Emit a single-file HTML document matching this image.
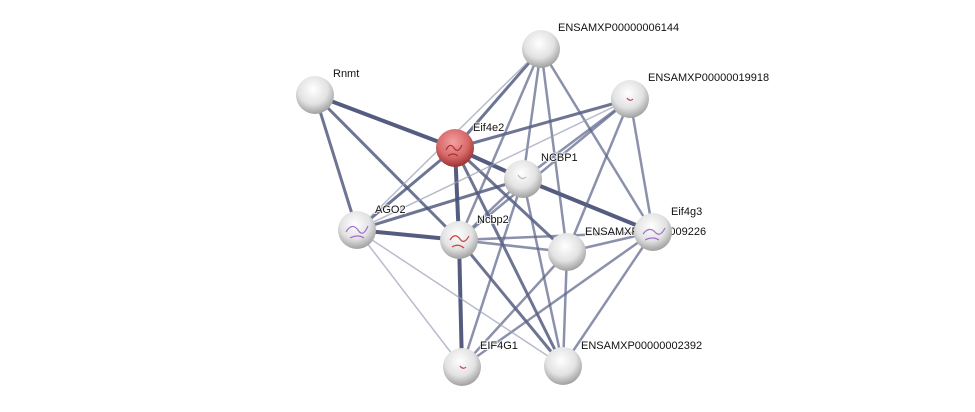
<!DOCTYPE html>
<html><head><meta charset="utf-8"><style>
html,body{margin:0;padding:0;background:#fff;width:975px;height:412px;overflow:hidden}
text{font-family:"Liberation Sans",sans-serif;font-size:11px;fill:#111;paint-order:stroke;stroke:#fff;stroke-width:2px;stroke-opacity:0.8}
</style></head><body>
<svg width="975" height="412" xmlns="http://www.w3.org/2000/svg">
<defs>
<radialGradient id="g" cx="45%" cy="35%" r="65%">
<stop offset="0" stop-color="#ffffff"/><stop offset="0.6" stop-color="#e2e2e2"/><stop offset="1" stop-color="#a0a0a0"/>
</radialGradient>
<radialGradient id="r" cx="45%" cy="35%" r="65%">
<stop offset="0" stop-color="#f4a0a0"/><stop offset="0.6" stop-color="#d86a6a"/><stop offset="1" stop-color="#9a3232"/>
</radialGradient>
</defs>
<g stroke-linecap="round">
<g stroke="#38406a" stroke-opacity="0.85" stroke-width="4">
<line x1="315" y1="95" x2="455" y2="148"/>
<line x1="455" y1="148" x2="523" y2="179"/>
<line x1="455" y1="148" x2="459" y2="240"/>
<line x1="357" y1="230" x2="459" y2="240"/>
<line x1="459" y1="240" x2="462" y2="367"/>
<line x1="523" y1="179" x2="653" y2="232"/>
</g>
<g stroke="#4a5278" stroke-opacity="0.8" stroke-width="3">
<line x1="315" y1="95" x2="357" y2="230"/>
<line x1="315" y1="95" x2="459" y2="240"/>
<line x1="455" y1="148" x2="357" y2="230"/>
<line x1="455" y1="148" x2="630" y2="99"/>
<line x1="455" y1="148" x2="563" y2="366"/>
<line x1="455" y1="148" x2="567" y2="252"/>
<line x1="357" y1="230" x2="523" y2="179"/>
<line x1="541" y1="49" x2="455" y2="148"/>
<line x1="459" y1="240" x2="563" y2="366"/>
</g>
<g stroke="#5a6288" stroke-opacity="0.7" stroke-width="2.5">
<line x1="541" y1="49" x2="459" y2="240"/>
<line x1="541" y1="49" x2="523" y2="179"/>
<line x1="541" y1="49" x2="567" y2="252"/>
<line x1="541" y1="49" x2="653" y2="232"/>
<line x1="630" y1="99" x2="459" y2="240"/>
<line x1="630" y1="99" x2="523" y2="179"/>
<line x1="630" y1="99" x2="567" y2="252"/>
<line x1="630" y1="99" x2="653" y2="232"/>
<line x1="523" y1="179" x2="462" y2="367"/>
<line x1="523" y1="179" x2="563" y2="366"/>
<line x1="459" y1="240" x2="567" y2="252"/>
<line x1="459" y1="240" x2="653" y2="232"/>
<line x1="523" y1="179" x2="459" y2="240"/>
<line x1="567" y1="252" x2="653" y2="232"/>
<line x1="567" y1="252" x2="462" y2="367"/>
<line x1="567" y1="252" x2="563" y2="366"/>
<line x1="653" y1="232" x2="462" y2="367"/>
<line x1="653" y1="232" x2="563" y2="366"/>
</g>
<g stroke="#9a9eb8" stroke-opacity="0.7" stroke-width="1.5">
<line x1="541" y1="49" x2="357" y2="230"/>
<line x1="630" y1="99" x2="357" y2="230"/>
<line x1="357" y1="230" x2="462" y2="367"/>
<line x1="357" y1="230" x2="563" y2="366"/>
</g>
</g>
<g>
<circle cx="541" cy="49" r="19" fill="url(#g)"/>
<circle cx="630" cy="99" r="19" fill="url(#g)"/>
<circle cx="315" cy="95" r="19" fill="url(#g)"/>
<circle cx="523" cy="179" r="19" fill="url(#g)"/>
<circle cx="357" cy="230" r="19" fill="url(#g)"/>
<circle cx="459" cy="240" r="19" fill="url(#g)"/>
<circle cx="567" cy="252" r="19" fill="url(#g)"/>
<circle cx="462" cy="367" r="19" fill="url(#g)"/>
<circle cx="563" cy="366" r="19" fill="url(#g)"/>
<circle cx="455" cy="148" r="19" fill="url(#r)"/>
</g>
<text x="558" y="31">ENSAMXP00000006144</text>
<text x="648" y="81">ENSAMXP00000019918</text>
<text x="333" y="77">Rnmt</text>
<text x="473" y="131">Eif4e2</text>
<text x="541" y="161">NCBP1</text>
<text x="375" y="213">AGO2</text>
<text x="477" y="223">Ncbp2</text>
<text x="585" y="235">ENSAMXP00000009226</text>
<text x="671" y="215">Eif4g3</text>
<text x="480" y="349">EIF4G1</text>
<text x="581" y="349">ENSAMXP00000002392</text>
<circle cx="653" cy="232" r="19" fill="url(#g)"/>
<g fill="none" stroke-width="1.2">
<path d="M446 150 q4-8 8-2 q4 6 8-3 M448 156 q5-4 10 0" stroke="#a33"/>
<path d="M346 232 q6-10 12-2 q5 8 10-4 M350 238 q8-4 14 0" stroke="#a070c8"/>
<path d="M643 234 q6-8 12-2 q5 6 10-4 M645 240 q8-4 14 0" stroke="#a070c8"/>
<path d="M450 240 q5-8 10-1 q4 6 9-3 M452 247 q6-4 12 1" stroke="#d04040"/>
<path d="M627 98 q3 4 6 1" stroke="#c04080"/>
<path d="M460 366 q3 4 6 1" stroke="#c04080"/>
<path d="M518 175 q4 6 8 2" stroke="#bbb"/>
</g>
</svg>
</body></html>
